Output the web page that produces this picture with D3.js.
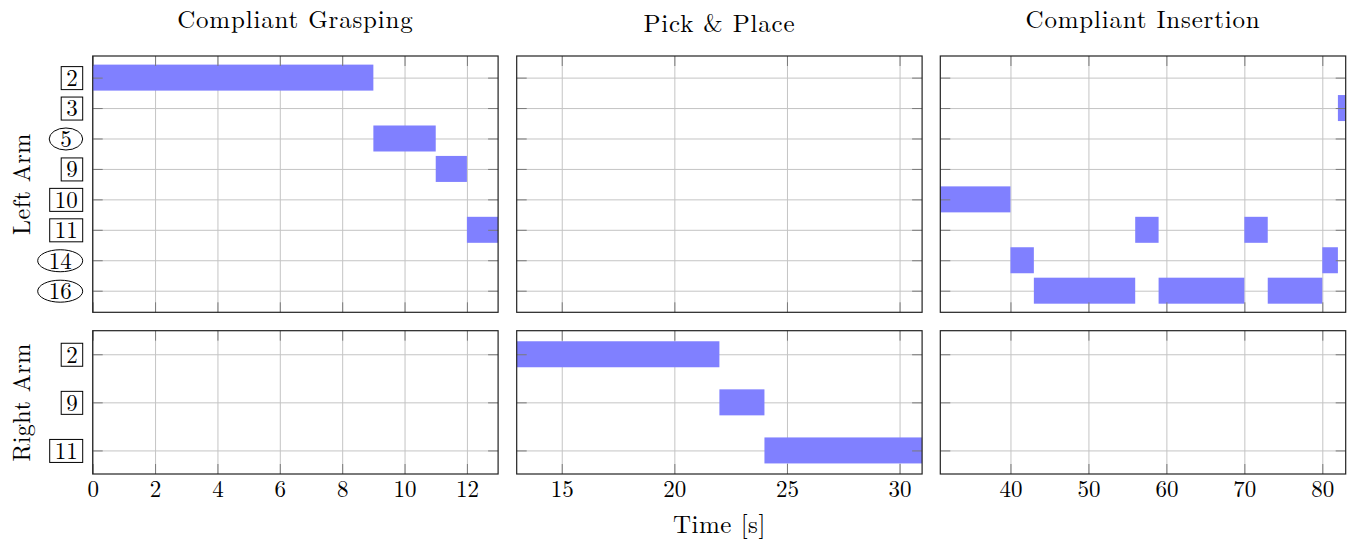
<!DOCTYPE html>
<html>
<head>
<meta charset="utf-8">
<script src="https://cdn.jsdelivr.net/npm/d3@7"></script>
<style>
  body { margin: 0; background: #fff; }
  svg text { font-family: "Latin Modern Roman", "CMU Serif", "Liberation Serif", serif; fill: #000; }
</style>
</head>
<body>
<div id="chart"></div>
<script>
// phases (columns)
const phases = ['Compliant Grasping', 'Pick & Place', 'Compliant Insertion'];
const phaseDomains = [[0, 13], [13, 31], [31, 83]];
const phaseTicks = [[0, 2, 4, 6, 8, 10, 12], [15, 20, 25, 30], [40, 50, 60, 70, 80]];

// arms (rows)
const arms = ['Left Arm', 'Right Arm'];
const leftCats = ['2', '3', '5', '9', '10', '11', '14', '16'];
const rightCats = ['2', '9', '11'];
const circledCats = ['5', '14', '16'];

// [category, start, end] in seconds
const leftSegments = [
  ['2', 0, 9], ['5', 9, 11], ['9', 11, 12], ['11', 12, 13],
  ['10', 31, 40], ['14', 40, 43], ['16', 43, 56], ['11', 56, 59],
  ['16', 59, 70], ['11', 70, 73], ['16', 73, 80], ['14', 80, 82], ['3', 82, 83]
];
const rightSegments = [['2', 13, 22], ['9', 22, 24], ['11', 24, 31]];

const xLabel = 'Time [s]';

const width = 1353, height = 539;
const colX = [92.7, 516.7, 940.3];
const colW = 405.4;
const rows = [
  { top: 56, bottom: 312.3, cats: leftCats, segs: leftSegments, pad: 0.71 },
  { top: 330.7, bottom: 474, cats: rightCats, segs: rightSegments, pad: 0.49 }
];
const barH = 26;
const tickLen = 10;
const labelGap = 10;

const svg = d3.select('#chart').append('svg')
  .attr('width', width)
  .attr('height', height);

const defs = svg.append('defs');

rows.forEach((row, ri) => {
  const y = d3.scalePoint()
    .domain(row.cats)
    .range([row.top, row.bottom])
    .padding(row.pad);
  const h = row.bottom - row.top;

  phases.forEach((ph, ci) => {
    const x = d3.scaleLinear()
      .domain(phaseDomains[ci])
      .range([colX[ci], colX[ci] + colW]);

    const clipId = `clip-${ri}-${ci}`;
    defs.append('clipPath').attr('id', clipId)
      .append('rect')
      .attr('x', colX[ci]).attr('y', row.top)
      .attr('width', colW).attr('height', h);

    const g = svg.append('g');

    // grid lines
    g.append('g')
      .attr('transform', `translate(0,${row.bottom})`)
      .call(d3.axisBottom(x).tickValues(phaseTicks[ci]).tickSize(-h).tickFormat(''))
      .call(a => a.select('.domain').remove())
      .call(a => a.selectAll('line').attr('stroke', '#c4c4c4').attr('stroke-width', 1));
    g.append('g')
      .attr('transform', `translate(${colX[ci]},0)`)
      .call(d3.axisLeft(y).tickSize(-colW).tickFormat(''))
      .call(a => a.select('.domain').remove())
      .call(a => a.selectAll('line').attr('stroke', '#c4c4c4').attr('stroke-width', 1));

    // bars
    g.append('g')
      .attr('clip-path', `url(#${clipId})`)
      .selectAll('rect')
      .data(row.segs.filter(d => d[2] > phaseDomains[ci][0] && d[1] < phaseDomains[ci][1]))
      .join('rect')
      .attr('x', d => x(d[1]))
      .attr('width', d => x(d[2]) - x(d[1]))
      .attr('y', d => y(d[0]) - barH / 2)
      .attr('height', barH)
      .attr('fill', '#8080ff');

    // inner ticks on all four sides
    const tickStyle = a => {
      a.select('.domain').remove();
      a.selectAll('line').attr('stroke', '#7a7a7a').attr('stroke-width', 1);
    };
    g.append('g')
      .attr('transform', `translate(0,${row.bottom})`)
      .call(d3.axisBottom(x).tickValues(phaseTicks[ci]).tickSize(-tickLen).tickFormat(''))
      .call(tickStyle);
    g.append('g')
      .attr('transform', `translate(0,${row.top})`)
      .call(d3.axisTop(x).tickValues(phaseTicks[ci]).tickSize(-tickLen).tickFormat(''))
      .call(tickStyle);
    g.append('g')
      .attr('transform', `translate(${colX[ci]},0)`)
      .call(d3.axisLeft(y).tickSize(-tickLen).tickFormat(''))
      .call(tickStyle);
    g.append('g')
      .attr('transform', `translate(${colX[ci] + colW},0)`)
      .call(d3.axisRight(y).tickSize(-tickLen).tickFormat(''))
      .call(tickStyle);

    // frame
    g.append('rect')
      .attr('x', colX[ci]).attr('y', row.top)
      .attr('width', colW).attr('height', h)
      .attr('fill', 'none')
      .attr('stroke', '#222')
      .attr('stroke-width', 1.2);

    // x tick labels on bottom row
    if (ri === rows.length - 1) {
      g.append('g')
        .attr('transform', `translate(0,${row.bottom})`)
        .call(d3.axisBottom(x).tickValues(phaseTicks[ci]).tickSize(0).tickPadding(0))
        .call(a => a.select('.domain').remove())
        .call(a => a.selectAll('text')
          .attr('dy', null)
          .attr('y', 23)
          .attr('font-size', 23));
    }

    // titles on top row
    if (ri === 0) {
      svg.append('text')
        .attr('x', colX[ci] + colW / 2)
        .attr('y', /[gjpqy]/.test(ph) ? 28 : 32)
        .attr('text-anchor', 'middle')
        .attr('font-size', 25)
        .attr('letter-spacing', 0.8)
        .text(ph);
    }

    // category labels with box / ellipse markers on the first column
    if (ci === 0) {
      const yl = g.append('g')
        .attr('transform', `translate(${colX[ci]},0)`)
        .call(d3.axisLeft(y).tickSize(0))
        .call(a => a.select('.domain').remove());
      yl.selectAll('.tick').each(function (d) {
        const t = d3.select(this).select('text')
          .attr('font-size', 23)
          .attr('dy', '0.34em');
        if (circledCats.includes(d)) {
          t.attr('x', -labelGap - 11);
          const bb = t.node().getBBox();
          d3.select(this).insert('ellipse', 'text')
            .attr('cx', bb.x + bb.width / 2)
            .attr('cy', 0)
            .attr('rx', bb.width / 2 + 11)
            .attr('ry', 11)
            .attr('fill', 'none')
            .attr('stroke', '#000')
            .attr('stroke-width', 1);
        } else {
          t.attr('x', -labelGap - 5);
          const bb = t.node().getBBox();
          d3.select(this).insert('rect', 'text')
            .attr('x', bb.x - 5)
            .attr('y', -11.5)
            .attr('width', bb.width + 10)
            .attr('height', 23)
            .attr('fill', 'none')
            .attr('stroke', '#000')
            .attr('stroke-width', 1);
        }
      });
    }
  });

  // arm label
  svg.append('text')
    .attr('transform', `translate(30,${(row.top + row.bottom) / 2}) rotate(-90)`)
    .attr('text-anchor', 'middle')
    .attr('font-size', 24)
    .attr('letter-spacing', 0.5)
    .text(arms[ri]);
});

// x axis label
svg.append('text')
  .attr('x', colX[1] + colW / 2)
  .attr('y', 533)
  .attr('text-anchor', 'middle')
  .attr('font-size', 25)
  .attr('letter-spacing', 0.5)
  .text(xLabel);
</script>
</body>
</html>
